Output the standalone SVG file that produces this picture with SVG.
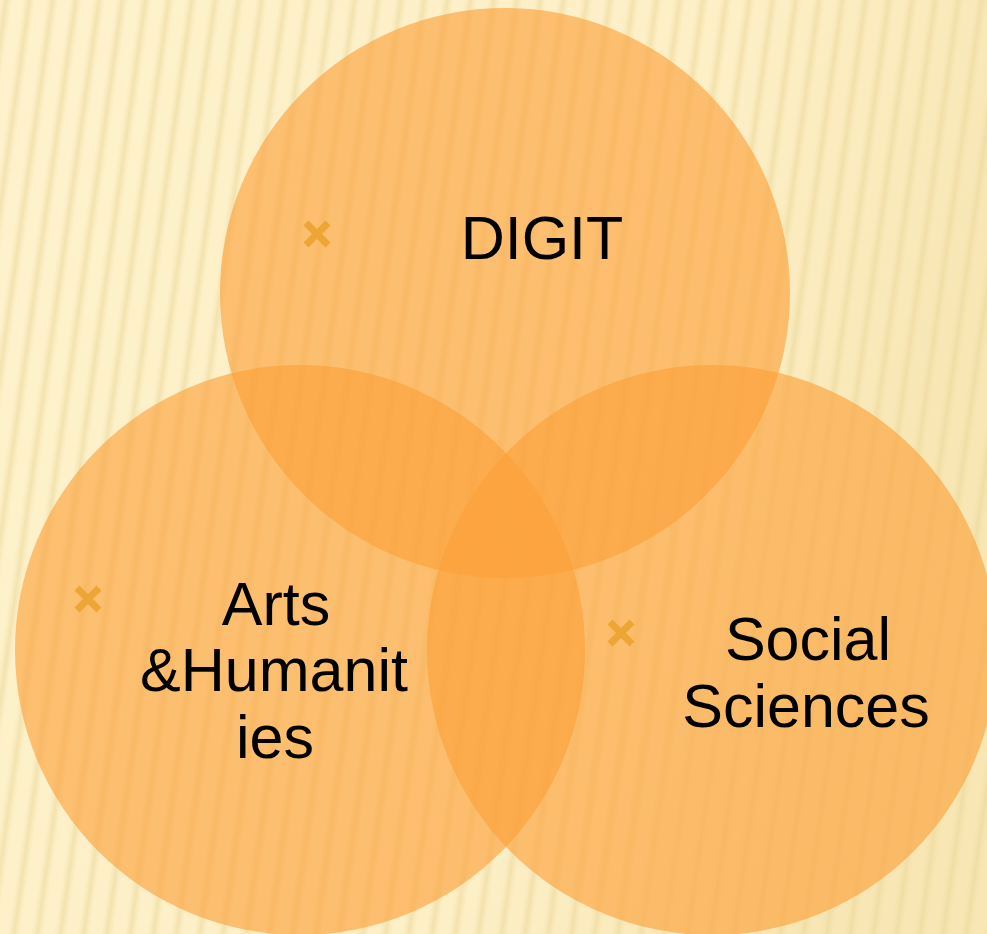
<svg xmlns="http://www.w3.org/2000/svg" width="987" height="934" viewBox="0 0 987 934">
<defs>
<linearGradient id="stripeG" x1="0" y1="0" x2="1" y2="0">
<stop offset="0" stop-color="#EEDB9E" stop-opacity="0"/>
<stop offset="0.5" stop-color="#EBD799" stop-opacity="0.55"/>
<stop offset="1" stop-color="#EEDB9E" stop-opacity="0"/>
</linearGradient>
<pattern id="stripes" width="23" height="40" patternUnits="userSpaceOnUse" patternTransform="rotate(8)">
<rect x="0" y="0" width="12" height="40" fill="url(#stripeG)"/>
</pattern>
<linearGradient id="bgG" x1="0" y1="0" x2="1" y2="0.3">
<stop offset="0" stop-color="#FEF2CC"/>
<stop offset="0.7" stop-color="#FDEFC6"/>
<stop offset="1" stop-color="#F8E6B4"/>
</linearGradient>
<style>
.c{fill:#FBA038;fill-opacity:0.62}
.t{font-family:"Liberation Sans",Arial,sans-serif;font-size:61px;fill:#000;text-anchor:middle}
.x{stroke:#EDA535;stroke-width:7;fill:none}
</style>
</defs>
<rect width="987" height="934" fill="url(#bgG)"/>
<rect width="987" height="934" fill="url(#stripes)"/>
<g id="digit">
<circle class="c" cx="505" cy="293" r="285"/>
</g>
<g id="arts">
<circle class="c" cx="300" cy="650" r="285"/>
</g>
<g id="social">
<circle class="c" cx="712" cy="650" r="285"/>
</g>
<g id="labels">
<path class="x" d="M306 223 L328 245 M328 223 L306 245"/>
<text class="t" x="542" y="259">DIGIT</text>
<path class="x" d="M77 588 L99 610 M99 588 L77 610"/>
<text class="t" x="276" y="625">Arts</text>
<text class="t" x="274" y="691">&amp;Humanit</text>
<text class="t" x="275" y="758">ies</text>
<path class="x" d="M610 622 L632 644 M632 622 L610 644"/>
<text class="t" x="808" y="660">Social</text>
<text class="t" x="806" y="727">Sciences</text>
</g>
</svg>
